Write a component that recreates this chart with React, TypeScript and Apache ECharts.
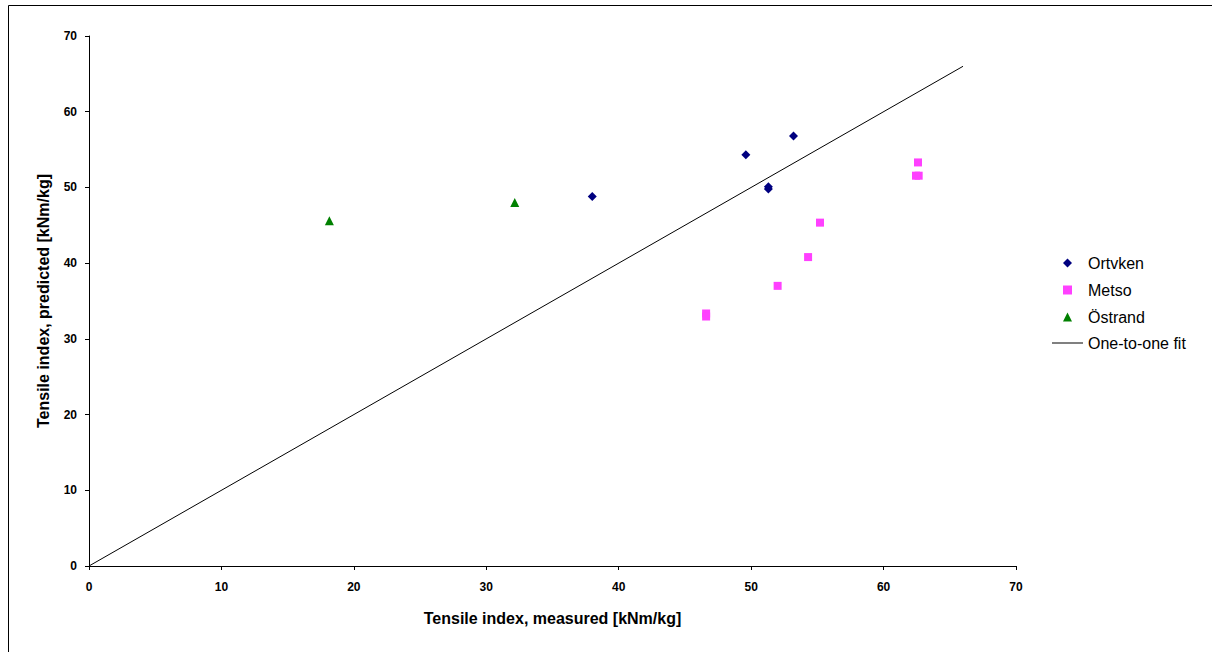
import React, { useEffect, useRef } from "react";
import * as echarts from "echarts";

const ortvken: number[][] = [
  [49.6, 54.3],
  [53.2, 56.8],
  [51.3, 50.1],
  [51.3, 49.8],
  [38.0, 48.8],
];
const metso: number[][] = [
  [62.6, 53.3],
  [62.45, 51.55],
  [62.65, 51.55],
  [55.2, 45.35],
  [54.3, 40.8],
  [52.0, 37.0],
  [46.6, 33.35],
  [46.6, 32.95],
];
const ostrand: number[][] = [
  [18.15, 45.6],
  [32.15, 48.0],
];
const oneToOne: number[][] = [
  [0, 0],
  [66, 66],
];
const seriesNames = ["Ortvken", "Metso", "Östrand", "One-to-one fit"];
const xTitle = "Tensile index, measured [kNm/kg]";
const yTitle = "Tensile index, predicted [kNm/kg]";

export default function App() {
  const ref = useRef<HTMLDivElement>(null);
  useEffect(() => {
    document.body.style.margin = "0";
    const chart = echarts.init(ref.current!, null, { renderer: "svg" });
    const font = "Liberation Sans, Arial, sans-serif";
    const axisCommon = {
      type: "value",
      min: 0,
      max: 70,
      interval: 10,
      splitLine: { show: false },
      axisLine: { show: true, onZero: false, lineStyle: { color: "#000", width: 1 } },
      axisTick: { show: true, length: 4, lineStyle: { color: "#000" } },
      nameTextStyle: { fontFamily: font, fontWeight: "bold", fontSize: 16, color: "#000" },
      nameLocation: "middle",
    };
    const legendText = { fontFamily: font, fontSize: 16, color: "#000" };
    chart.setOption({
      animation: false,
      backgroundColor: "#fff",
      textStyle: { fontFamily: font },
      graphic: [
        {
          type: "rect",
          shape: { x: 8.5, y: 5.5, width: 1220, height: 660 },
          style: { fill: "none", stroke: "#000", lineWidth: 1 },
          silent: true,
        },
      ],
      grid: { left: 89, right: 196, top: 36, bottom: 86, containLabel: false },
      xAxis: {
        ...axisCommon,
        name: xTitle,
        nameGap: 44,
        axisLabel: { margin: 15, fontFamily: font, fontWeight: "bold", fontSize: 12, color: "#000" },
      },
      yAxis: {
        ...axisCommon,
        name: yTitle,
        nameGap: 38,
        axisLabel: { margin: 12, fontFamily: font, fontWeight: "bold", fontSize: 12, color: "#000" },
      },
      legend: [
        {
          orient: "vertical",
          left: 1058,
          top: 250,
          itemWidth: 9,
          itemHeight: 9,
          itemGap: 11,
          textStyle: { ...legendText, padding: [0, 0, 0, 11] },
          data: [
            { name: seriesNames[0], icon: "diamond" },
            { name: seriesNames[1], icon: "rect" },
            { name: seriesNames[2], icon: "triangle" },
          ],
        },
        {
          orient: "vertical",
          left: 1047,
          top: 330,
          itemWidth: 31,
          itemHeight: 1,
          textStyle: legendText,
          data: [{ name: seriesNames[3], icon: "rect" }],
        },
      ],
      series: [
        {
          name: seriesNames[0],
          type: "scatter",
          data: ortvken,
          symbol: "diamond",
          symbolSize: 9,
          itemStyle: { color: "#000080", opacity: 1 },
        },
        {
          name: seriesNames[1],
          type: "scatter",
          data: metso,
          symbol: "rect",
          symbolSize: 8,
          itemStyle: { color: "#ff40ff", opacity: 1 },
        },
        {
          name: seriesNames[2],
          type: "scatter",
          data: ostrand,
          symbol: "triangle",
          symbolSize: 9,
          itemStyle: { color: "#008000", opacity: 1 },
        },
        {
          name: seriesNames[3],
          type: "line",
          data: oneToOne,
          symbol: "none",
          showSymbol: false,
          lineStyle: { color: "#000", width: 1 },
          itemStyle: { color: "#000" },
        },
      ],
    });
    return () => chart.dispose();
  }, []);
  return <div ref={ref} style={{ width: 1212, height: 652 }} />;
}
